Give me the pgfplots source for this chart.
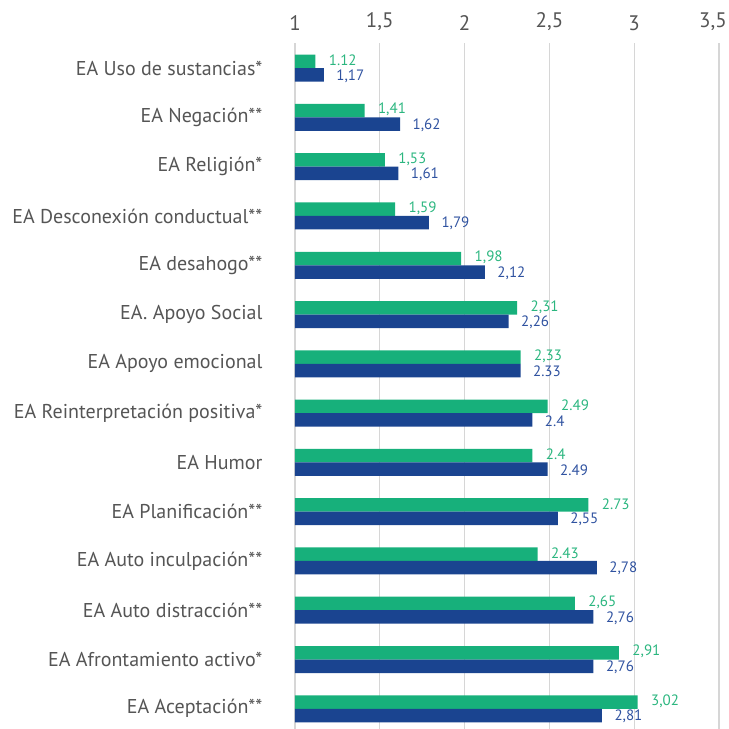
\documentclass[border=0pt]{standalone}
\usepackage{pgfplots}
\usepackage{pgfplotstable}
\pgfplotsset{compat=1.18}
\usepackage{fontspec}
\setmainfont{PT Sans}

\definecolor{cgreen}{HTML}{17B07B}
\definecolor{cblue}{HTML}{1A4490}
\definecolor{tgreen}{HTML}{2BB67F}
\definecolor{tblue}{HTML}{2F52A0}
\definecolor{tgray}{HTML}{555555}
\definecolor{gridc}{HTML}{D6D6D6}

\pgfplotstableread{
y x lab
13 1.12 1.12
12 1.41 1,41
11 1.53 1,53
10 1.59 1,59
9 1.98 1,98
8 2.31 2,31
7 2.33 2,33
6 2.49 2.49
5 2.40 2.4
4 2.73 2.73
3 2.43 2.43
2 2.65 2,65
1 2.91 2,91
0 3.02 3,02
}\greendata

\pgfplotstableread{
y x lab
13 1.17 1,17
12 1.62 1,62
11 1.61 1,61
10 1.79 1,79
9 2.12 2,12
8 2.26 2,26
7 2.33 2.33
6 2.40 2.4
5 2.49 2.49
4 2.55 2,55
3 2.78 2,78
2 2.76 2,76
1 2.76 2,76
0 2.81 2,81
}\bluedata

\begin{document}
\begin{tikzpicture}
\begin{axis}[
  xbar,
  scale only axis,
  width=424pt, height=686pt,
  xmin=1, xmax=3.5,
  ymin=-0.41, ymax=13.51,
  axis line style={draw=none},
  major tick length=0pt,
  xmajorgrids,
  grid style={gridc, line width=1.3pt},
  xtick={1,1.5,2,2.5,3,3.5},
  xticklabels={1,{1,5},2,{2,5},3,{\hspace*{-12pt}3,5}},
  xticklabel pos=top,
  xticklabel style={font=\fontsize{21}{21}\selectfont, text=tgray, yshift=9pt},
  ytick={0,...,13},
  yticklabels={EA Aceptación**, EA Afrontamiento activo*, EA Auto distracción**, EA Auto inculpación**, EA Planificación**, EA Humor, EA Reinterpretación positiva*, EA Apoyo emocional, EA. Apoyo Social, EA desahogo**, EA Desconexión conductual**, EA Religión*, EA Negación**, EA Uso de sustancias*},
  yticklabel style={font=\fontsize{20}{20}\selectfont, text=tgray, xshift=-29pt},
  bar width=13.5pt,
  point meta=explicit symbolic,
  nodes near coords,
  nodes near coords align=horizontal,
  clip=false,
]
\addplot[fill=cgreen, draw=none, bar shift=6.75pt,
  nodes near coords style={font=\fontsize{15}{15}\selectfont, text=tgreen, anchor=west, xshift=10pt, yshift=1pt, inner ysep=1pt}]
  table[x=x, y=y, meta=lab] {\greendata};
\addplot[fill=cblue, draw=none, bar shift=-6.75pt,
  nodes near coords style={font=\fontsize{15}{15}\selectfont, text=tblue, anchor=west, xshift=9pt, yshift=-1pt, inner ysep=1pt}]
  table[x=x, y=y, meta=lab] {\bluedata};
\end{axis}
\pgfresetboundingbox
\path (current axis.south west) ++(-295pt,0pt) rectangle ++(729pt,729pt);
\end{tikzpicture}
\end{document}
